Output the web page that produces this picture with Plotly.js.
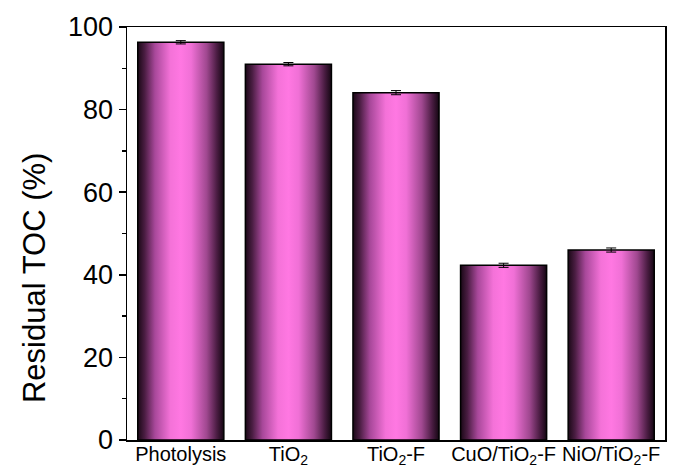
<!DOCTYPE html>
<html>
<head>
<meta charset="utf-8">
<script src="https://cdn.plot.ly/plotly-3.0.1.min.js"></script>
<style>html,body{margin:0;padding:0;background:#fff;}#chart{width:676px;height:468px;}</style>
</head>
<body>
<div id="chart"></div>
<script>
const categories = ["Photolysis", "TiO<sub>2</sub>", "TiO<sub>2</sub>-F", "CuO/TiO<sub>2</sub>-F", "NiO/TiO<sub>2</sub>-F"];
const residualTOC = [96.3, 91.0, 84.1, 42.3, 46.0];
const errors = [0.4, 0.4, 0.5, 0.5, 0.5];
const yTitle = "Residual TOC (%)";

const trace = {
  type: "bar",
  x: categories,
  y: residualTOC,
  width: 0.8,
  marker: {color: "#ff78e2", line: {color: "#000", width: 1.5}},
  error_y: {type: "data", array: errors, visible: true, color: "#000", thickness: 1, width: 5}
};

const layout = {
  width: 676, height: 468,
  margin: {l: 127, r: 11, t: 27, b: 28},
  paper_bgcolor: "#fff", plot_bgcolor: "#fff",
  showlegend: false,
  font: {family: "Liberation Sans, Arial, sans-serif", color: "#000"},
  xaxis: {
    showline: true, linecolor: "#000", linewidth: 1.5, mirror: true,
    ticks: "", tickangle: 0, tickfont: {size: 20}, showgrid: false, zeroline: false,
    automargin: false, ticklabelstandoff: -5
  },
  yaxis: {
    range: [0, 100], showline: true, linecolor: "#000", linewidth: 1.5, mirror: true,
    ticks: "outside", ticklen: 7, tickwidth: 1.5, tickcolor: "#000", dtick: 20,
    tickfont: {size: 27}, showgrid: false, zeroline: false,
    minor: {dtick: 10, ticks: "outside", ticklen: 4, tickwidth: 1.5, tickcolor: "#000"}
  },
  annotations: [{
    text: yTitle, textangle: -90, showarrow: false,
    xref: "paper", yref: "paper", x: -0.173, y: 0.392,
    xanchor: "center", yanchor: "middle",
    font: {size: 31, color: "#000"}
  }]
};

Plotly.newPlot("chart", [trace], layout, {staticPlot: true}).then(function (gd) {
  const svg = gd.querySelector("svg.main-svg");
  const ns = "http://www.w3.org/2000/svg";
  let defs = svg.querySelector("defs");
  if (!defs) { defs = document.createElementNS(ns, "defs"); svg.insertBefore(defs, svg.firstChild); }
  const grad = document.createElementNS(ns, "linearGradient");
  grad.setAttribute("id", "barGrad");
  grad.setAttribute("x1", "0"); grad.setAttribute("x2", "1");
  grad.setAttribute("y1", "0"); grad.setAttribute("y2", "0");
  const stops = [[0, "#1a0816"], [0.08, "#4a1d42"], [0.2, "#a8489a"], [0.38, "#f472d8"], [0.5, "#ff78e2"], [0.62, "#f070d6"], [0.8, "#a04890"], [0.92, "#4a1c42"], [1, "#140612"]];
  stops.forEach(function (s) {
    const st = document.createElementNS(ns, "stop");
    st.setAttribute("offset", s[0]);
    st.setAttribute("stop-color", s[1]);
    grad.appendChild(st);
  });
  defs.appendChild(grad);
  gd.querySelectorAll(".bars .point path").forEach(function (p) {
    p.style.fill = "url(#barGrad)";
  });
});
</script>
</body>
</html>
